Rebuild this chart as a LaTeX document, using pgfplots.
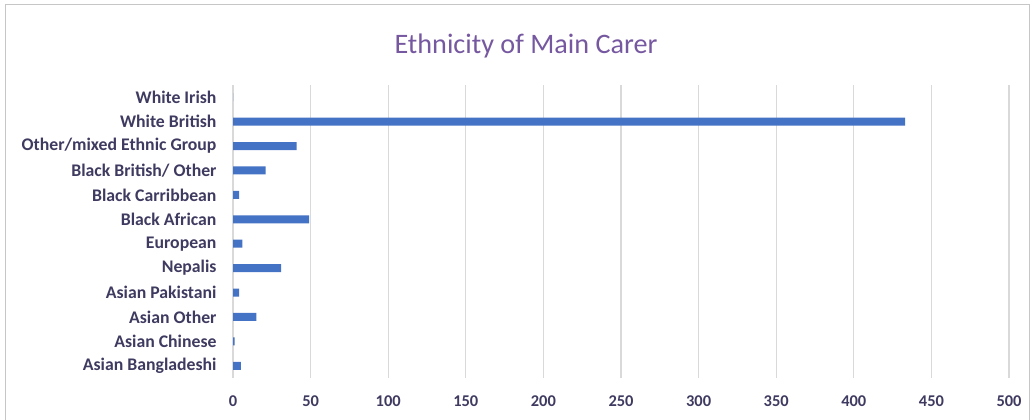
\documentclass[border=0pt]{standalone}
\usepackage{pgfplots}
\pgfplotsset{compat=1.18}
\usepackage{fontspec}
\setmainfont{Carlito}
\definecolor{barblue}{RGB}{68,114,196}
\definecolor{titlecol}{RGB}{118,88,160}
\definecolor{labelcol}{RGB}{62,58,96}
\definecolor{gridcol}{RGB}{217,217,217}
\begin{document}
\begin{tikzpicture}[x=1bp,y=1bp]
  \useasboundingbox (0,0) rectangle (1032,419);
  \draw[gray!45, line width=1bp] (5,-5) rectangle (1029,414);
  \node[text=titlecol, font=\fontsize{28.3}{33}\selectfont] at (526,373) {Ethnicity of Main Carer};
  \begin{axis}[
    at={(233bp,41bp)}, anchor=south west,
    width=776bp, height=293bp, scale only axis,
    xbar, bar width=8bp,
    xmin=0, xmax=500, ymin=-0.5, ymax=11.5,
    xtick={0,50,...,500},
    ytick={0,...,11},
    yticklabels={Asian Bangladeshi, Asian Chinese\hspace{5bp}, Asian Other, Asian Pakistani,
      Nepalis, European\hspace{5bp}, Black African, Black Carribbean, Black British/ Other,
      Other/mixed Ethnic Group, White British, White Irish\hspace{4bp}},
    xmajorgrids,
    grid style={draw=gridcol, line width=1.2bp},
    axis line style={draw=none},
    major tick length=0pt,
    /pgf/number format/assume math mode=true,
    ticklabel style={text=labelcol, font=\fontsize{16.5}{19}\selectfont\bfseries},
    yticklabel style={xshift=-13bp, font=\fontsize{17.8}{20}\selectfont\bfseries},
    xticklabel style={yshift=-14bp},
  ]
    \addplot[fill=barblue, draw=none] coordinates {
      (5,0) (1,1) (15,2) (4,3) (31,4) (6,5) (49,6) (4,7) (21,8) (41,9) (433,10) (0,11)
    };
  \end{axis}
\end{tikzpicture}
\end{document}
